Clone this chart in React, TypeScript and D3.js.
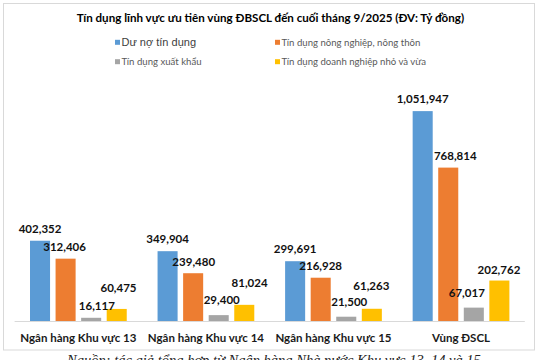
import React from "react";
import * as d3 from "d3";

const categories = ["Ngân hàng Khu vực 13", "Ngân hàng Khu vực 14", "Ngân hàng Khu vực 15", "Vùng ĐSCL"];
const seriesNames = ["Dư nợ tín dụng", "Tín dụng nông nghiệp, nông thôn", "Tín dụng xuất khẩu", "Tín dụng doanh nghiệp nhỏ và vừa"];
const duNo = [402352, 349904, 299691, 1051947];
const nongNghiep = [312406, 239480, 216928, 768814];
const xuatKhau = [16117, 29400, 21500, 67017];
const dnNhoVua = [60475, 81024, 61263, 202762];
const seriesValues = [duNo, nongNghiep, xuatKhau, dnNhoVua];
const colors = ["#5B9BD5", "#ED7D31", "#A5A5A5", "#FFC000"];
const title = "Tín dụng lĩnh vực ưu tiên vùng ĐBSCL đến cuối tháng 9/2025 (ĐV: Tỷ đồng)";
const caption = "Nguồn: tác giả tổng hợp từ Ngân hàng Nhà nước Khu vực 13, 14 và 15";

// label nudges (dx, extra lift) per series per category, as in the source
const labelDx = [
  [0, 0, 0, 0],
  [-1, 0.6, 0, 7],
  [5.7, 3, 3, -7],
  [1.8, 5.3, -0.5, -0.4],
];
const labelLift = [
  [0, 0, 0.5, 0.3],
  [0, -0.5, 0, 0],
  [0, 3, 3, 2.7],
  [9, 9.5, 10.5, -1.3],
];

const fmt = d3.format(",");
const calibri = "Lato, 'Open Sans', sans-serif";

export default function App() {
  const W = 540, H = 360;
  const baseY = 321;
  const x0 = d3.scaleBand<string>().domain(categories).range([14.6, 524.8]).paddingInner(0.2416).paddingOuter(0.1208);
  const x1 = d3.scaleBand<number>().domain(d3.range(seriesNames.length)).range([0, x0.bandwidth()]).paddingInner(0.216).paddingOuter(0);
  const y = d3.scaleLinear().domain([0, 1200000]).range([baseY, baseY - 1200000 / 5012]);

  const legendPos = [
    { x: 115, y: 42.3 },
    { x: 275, y: 42.3 },
    { x: 115, y: 61.7 },
    { x: 275, y: 61.7 },
  ];

  return (
    <svg width={W} height={H} style={{ position: "absolute", left: 0, top: 0, background: "#fff" }}>
      <rect x={0} y={0} width={W} height={H} fill="#fff" />
      <rect x={3.5} y={3.5} width={531} height={346.5} fill="#fff" stroke="#d9d9d9" strokeWidth={1} />
      <text x={270.4} y={22.3} textAnchor="middle" fontFamily={calibri} fontWeight={700} fontSize={11.6} fill="#000">
        {title}
      </text>
      {seriesNames.map((name, i) => (
        <g key={name}>
          <rect x={legendPos[i].x} y={legendPos[i].y - 2.5} width={5} height={5} fill={colors[i]} />
          <text
            x={legendPos[i].x + 6.5}
            y={legendPos[i].y + (i === 0 ? 4 : 3.6)}
            fontFamily={i === 0 ? "'Liberation Sans', Arial, sans-serif" : calibri}
            fontSize={i === 0 ? 11 : 9.6}
            fill={i === 0 ? "#404040" : "#595959"}
          >
            {name}
          </text>
        </g>
      ))}
      <line x1={14.6} x2={524.8} y1={baseY + 0.5} y2={baseY + 0.5} stroke="#d9d9d9" strokeWidth={1} />
      {categories.map((cat, ci) => (
        <g key={cat} transform={`translate(${x0(cat)},0)`}>
          {seriesValues.map((vals, si) => (
            <rect
              key={si}
              x={x1(si)}
              y={y(vals[ci])}
              width={x1.bandwidth()}
              height={baseY - y(vals[ci])}
              fill={colors[si]}
            />
          ))}
          {seriesValues.map((vals, si) => (
            <text
              key={"l" + si}
              x={(x1(si) as number) + x1.bandwidth() / 2 + labelDx[si][ci]}
              y={y(vals[ci]) - 8 - labelLift[si][ci]}
              textAnchor="middle"
              fontFamily={calibri}
              fontWeight={700}
              fontSize={11.5}
              fill="#111"
            >
              {fmt(vals[ci])}
            </text>
          ))}
          <text
            x={x0.bandwidth() / 2}
            y={341.7}
            textAnchor="middle"
            fontFamily={calibri}
            fontWeight={700}
            fontSize={11.5}
            fill="#1a1a1a"
          >
            {cat}
          </text>
        </g>
      ))}
      <text x={274} y={365} textAnchor="middle" fontFamily="'Liberation Serif', 'Times New Roman', serif" fontStyle="italic" fontSize={14.5} fill="#222">
        {caption}
      </text>
    </svg>
  );
}
